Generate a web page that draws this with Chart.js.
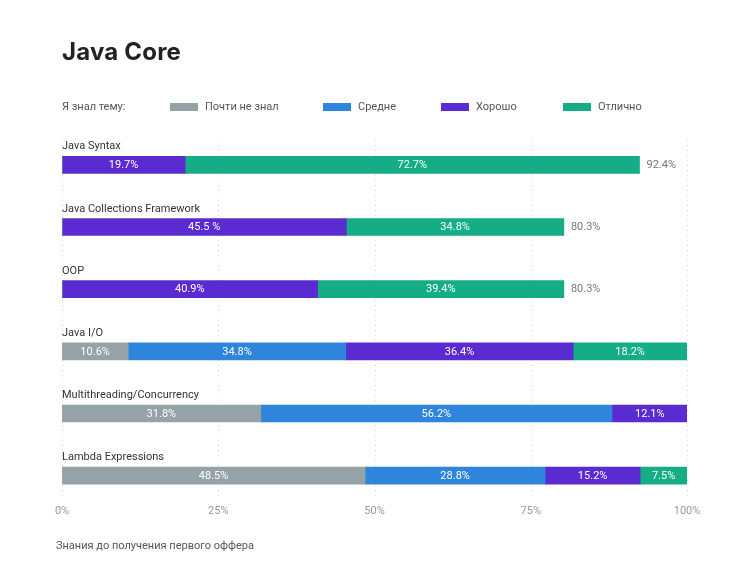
<!DOCTYPE html>
<html>
<head>
<meta charset="utf-8">
<script src="https://cdn.jsdelivr.net/npm/chart.js@4"></script>
<style>
  html, body { margin:0; padding:0; background:#fff; }
  #wrap { position:relative; width:750px; height:562px; overflow:hidden; }
  canvas { position:absolute; left:0; top:0; }
  .t { position:absolute; white-space:nowrap; }
  #title { left:62px; top:37px; font-family:Inter, "Open Sans", sans-serif; font-weight:700; font-size:24px; color:#222; letter-spacing:0.2px; }
  .leg { font-family:Roboto, sans-serif; font-size:11px; color:#555; top:100px; line-height:14px; }
  .sw { position:absolute; top:103px; width:28px; height:8px; }
  #foot { left:56px; top:539px; font-family:Roboto, sans-serif; font-size:11px; color:#555; }
</style>
</head>
<body>
<div id="wrap">
  <canvas id="c" width="750" height="562"></canvas>
  <div class="t" id="title">Java Core</div>
  <div class="t leg" style="left:62px">Я знал тему:</div>
  <div id="legend"></div>
  <div class="t" id="foot">Знания до получения первого оффера</div>
</div>
<script>
const categories = ["Java Syntax", "Java Collections Framework", "OOP", "Java I/O", "Multithreading/Concurrency", "Lambda Expressions"];
const seriesNames = ["Почти не знал", "Средне", "Хорошо", "Отлично"];
const almostNone = [0, 0, 0, 10.6, 31.8, 48.5];
const medium     = [0, 0, 0, 34.8, 56.2, 28.8];
const good       = [19.7, 45.5, 40.9, 36.4, 12.1, 15.2];
const excellent  = [72.7, 34.8, 39.4, 18.2, 0, 7.5];
const totals     = [92.4, 80.3, 80.3, 100, 100, 100];
const goodLabels = ["19.7%", "45.5 %", "40.9%", "36.4%", "12.1%", "15.2%"];
const xTicks = [0, 25, 50, 75, 100];

const colors = ["#95a3a8", "#2f84db", "#5a2bd0", "#14ad85"];
const seriesData = [almostNone, medium, good, excellent];

// HTML legend
const legPos = [[170, 205], [323, 358], [441, 476], [563, 598]];
const legEl = document.getElementById('legend');
seriesNames.forEach((n, i) => {
  const s = document.createElement('div');
  s.className = 'sw'; s.style.left = legPos[i][0] + 'px'; s.style.background = colors[i];
  legEl.appendChild(s);
  const t = document.createElement('div');
  t.className = 't leg'; t.style.left = legPos[i][1] + 'px'; t.textContent = n;
  legEl.appendChild(t);
});

const labelsPlugin = {
  id: 'labelsPlugin',
  afterDatasetsDraw(chart) {
    const ctx = chart.ctx;
    const area = chart.chartArea;
    const ys = chart.scales.y;
    const xs = chart.scales.x;
    ctx.save();
    ctx.font = '11px Roboto, sans-serif';
    // category labels above bars
    categories.forEach((cat, i) => {
      const top = ys.getPixelForValue(i) - 8.5;
      ctx.fillStyle = '#333';
      ctx.textAlign = 'left';
      ctx.textBaseline = 'alphabetic';
      ctx.fillText(cat, area.left, top - 7);
    });
    // segment values
    chart.data.datasets.forEach((ds, di) => {
      const meta = chart.getDatasetMeta(di);
      meta.data.forEach((bar, i) => {
        const v = seriesData[di][i];
        if (!v) return;
        const cx = (bar.x + bar.base) / 2;
        ctx.fillStyle = '#fff';
        ctx.textAlign = 'center';
        ctx.textBaseline = 'middle';
        const txt = di === 2 ? goodLabels[i] : v.toFixed(1) + '%';
        ctx.fillText(txt, cx, bar.y + 0.5);
      });
    });
    // totals
    totals.forEach((t, i) => {
      if (t >= 99.9) return;
      ctx.fillStyle = '#777';
      ctx.textAlign = 'left';
      ctx.textBaseline = 'middle';
      ctx.fillText(t.toFixed(1) + '%', xs.getPixelForValue(t) + 7, ys.getPixelForValue(i) + 0.5);
    });
    ctx.restore();
  }
};

new Chart(document.getElementById('c'), {
  type: 'bar',
  data: {
    datasets: seriesNames.map((n, i) => ({
      label: n,
      data: seriesData[i].map((v, j) => ({ x: v, y: j })),
      backgroundColor: colors[i],
      borderWidth: 0,
      barThickness: 17
    }))
  },
  options: {
    indexAxis: 'y',
    responsive: false,
    animation: false,
    devicePixelRatio: 1,
    layout: { padding: { left: 54, right: 63, top: 140, bottom: 44 } },
    plugins: { legend: { display: false }, tooltip: { enabled: false }, title: { display: false } },
    scales: {
      x: {
        type: 'linear',
        stacked: true,
        min: 0, max: 100,
        afterBuildTicks(scale) { scale.ticks = xTicks.map(v => ({ value: v })); },
        ticks: { callback: v => v + '%', color: '#999', font: { family: 'Roboto', size: 11 }, padding: 0, maxRotation: 0, autoSkip: false },
        grid: { display: false },
        border: { display: false }
      },
      y: {
        type: 'linear',
        stacked: true,
        reverse: true,
        offset: false,
        min: -0.4, max: 5.34,
        ticks: { display: false },
        grid: { display: false, offset: false },
        border: { display: false }
      }
    }
  },
  plugins: [labelsPlugin, {
    id: 'dashGrid',
    beforeDatasetsDraw(chart) {
      // dotted vertical gridlines drawn from the x scale ticks
      const xs = chart.scales.x, a = chart.chartArea, ctx = chart.ctx;
      ctx.save();
      ctx.strokeStyle = '#d9d9d9';
      ctx.setLineDash([1, 4]);
      ctx.lineWidth = 1;
      xs.ticks.forEach(t => {
        const px = Math.round(xs.getPixelForValue(t.value)) + 0.5;
        ctx.beginPath(); ctx.moveTo(px, a.top); ctx.lineTo(px, a.bottom); ctx.stroke();
      });
      ctx.restore();
    }
  }]
});
</script>
</body>
</html>
